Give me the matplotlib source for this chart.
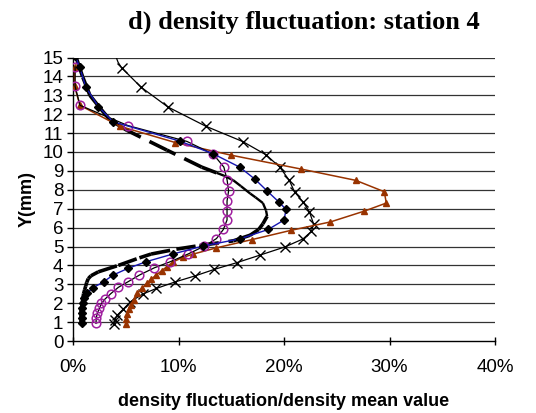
import numpy as np
import matplotlib
matplotlib.use("Agg")
import matplotlib.pyplot as plt
from matplotlib.collections import LineCollection
from matplotlib.ticker import FuncFormatter

plt.rcParams["lines.scale_dashes"] = False

# Profile heights (mm) and relative density fluctuation (%) for each run
dash_y = [0.9, 1.1, 1.3, 1.5, 1.7, 1.9, 2.1, 2.3, 2.5, 2.7, 2.9, 3.1, 3.3, 3.45,
          3.66, 4.0, 4.4, 4.6, 4.86, 5.05, 5.3, 5.6, 5.9, 6.2, 6.6, 6.9, 7.3,
          7.6, 7.8, 8.2, 8.5, 8.75, 8.9, 9.2, 10.1, 11.15, 11.7, 12.3, 13.0,
          14.0, 15.0]
dash_x = [0.8, 0.8, 0.8, 0.8, 0.8, 0.85, 0.9, 0.95, 1.0, 1.1, 1.2, 1.3, 1.45, 1.7,
          2.4, 4.3, 6.3, 7.4, 9.8, 12.0, 15.2, 16.8, 17.6, 18.0, 18.4, 18.3, 18.0,
          17.3, 16.8, 15.9, 15.2, 14.3, 13.6, 12.2, 8.9, 5.1, 3.5, 2.6, 1.6,
          0.9, 0.3]

diam_y = [0.93, 1.2, 1.46, 1.73, 1.99, 2.25, 2.55, 2.82, 3.13, 3.49, 3.84, 4.19,
          4.6, 5.03, 5.4, 5.9, 6.4, 6.96, 7.36, 7.94, 8.56, 9.2, 9.9, 10.58,
          11.6, 12.4, 13.45, 14.5, 15.1]
diam_x = [0.82, 0.82, 0.82, 0.82, 0.92, 1.04, 1.36, 1.9, 2.9, 3.8, 5.2, 6.9,
          9.45, 12.35, 15.8, 18.5, 20.0, 20.2, 19.5, 18.4, 17.25, 15.8, 13.3, 10.1,
          3.8, 2.4, 1.2, 0.63, 0.2]

circ_y = [0.93, 1.2, 1.46, 1.73, 1.99, 2.2, 2.5, 2.84, 3.13, 3.49, 3.87, 4.19,
          4.6, 5.02, 5.42, 5.9, 6.4, 6.9, 7.4, 7.95, 8.54, 9.2, 9.88, 10.56,
          11.4, 12.47, 13.47, 14.5]
circ_x = [2.18, 2.2, 2.3, 2.5, 2.7, 3.0, 3.57, 4.3, 5.2, 6.3, 7.7, 9.2,
          10.9, 12.45, 13.6, 14.25, 14.6, 14.6, 14.6, 14.75, 14.6, 14.3, 13.3, 10.8,
          5.2, 0.66, 0.2, 0.2]

tri_y = [0.9, 1.15, 1.41, 1.67, 1.9, 2.17, 2.52, 2.78, 3.05, 3.27, 3.49, 3.72,
         3.93, 4.19, 4.42, 4.6, 4.93, 5.37, 5.86, 6.3, 6.87, 7.3, 7.9, 8.5,
         9.1, 9.83, 10.5, 11.36, 12.47, 13.47, 14.5]
tri_x = [5.05, 5.05, 5.15, 5.3, 5.5, 5.8, 6.1, 6.5, 7.0, 7.4, 7.9, 8.4,
         8.9, 9.5, 10.4, 11.4, 13.6, 17.0, 20.7, 24.4, 27.6, 29.7, 29.5, 26.8,
         21.6, 15.0, 9.7, 4.45, 0.66, 0.15, 0.15]

cross_y = [0.9, 1.1, 1.37, 1.67, 2.08, 2.48, 2.78, 3.13, 3.45, 3.79, 4.14, 4.54,
           4.98, 5.4, 5.8, 6.2, 6.85, 7.36, 7.89, 8.5, 9.2, 9.85, 10.55, 11.36,
           12.38, 13.43, 14.46, 14.75, 15.6]
cross_x = [3.85, 3.95, 4.2, 4.74, 5.45, 6.6, 7.9, 9.7, 11.6, 13.4, 15.5, 17.7,
           20.1, 21.8, 22.6, 22.8, 22.4, 21.8, 21.0, 20.5, 19.6, 18.3, 16.1, 12.6,
           9.0, 6.45, 4.6, 4.27, 3.7]
cross_mark_n = 27  # the last two points only shape the line above the plot

x_ticks = [0, 10, 20, 30, 40]
y_ticks = list(range(0, 16))

fig = plt.figure(figsize=(5.36, 4.13), dpi=100)
ax = fig.add_axes([73 / 536, 72 / 413, 422 / 536, 283.5 / 413])

ax.set_xlim(0, 40)
ax.set_ylim(0, 15)

# horizontal gridlines only
for yv in y_ticks[1:]:
    ax.axhline(yv, color="#333333", lw=0.9, zorder=0.5)

# thick black profile: dash pattern restarts on every segment,
# upper part of the bulge drawn thinner
pts = np.column_stack([dash_x, dash_y])
segs = np.stack([pts[:-1], pts[1:]], axis=1)
mid_y = 0.5 * (pts[:-1, 1] + pts[1:, 1])
widths = np.where((mid_y > 6.7) & (mid_y < 8.95), 1.7, 2.6)
lc = LineCollection(segs, colors="black", linewidths=widths,
                    linestyles=[(0, (14, 7))], capstyle="butt", zorder=2)
ax.add_collection(lc)

ax.plot(cross_x, cross_y, color="black", lw=0.9, zorder=3)
ax.plot(cross_x[:cross_mark_n], cross_y[:cross_mark_n], ls="none", marker="x",
        ms=6.5, mew=1.0, color="black", zorder=3)

ax.plot(tri_x, tri_y, color="#993300", lw=1.1, marker="^", ms=5,
        mfc="#993300", mec="#993300", zorder=4)

ax.plot(circ_x, circ_y, color="black", lw=0.9, marker="o", ms=6.2,
        mfc="none", mec="#A0209F", mew=1.1, zorder=5)

ax.plot(diam_x, diam_y, color="#1515B0", lw=1.0, marker="D", ms=4.4,
        mfc="black", mec="black", zorder=6)

for side in ("top", "right"):
    ax.spines[side].set_visible(False)
for side in ("left", "bottom"):
    ax.spines[side].set_linewidth(1.0)
    ax.spines[side].set_color("black")

ax.set_xticks(x_ticks)
ax.set_yticks(y_ticks)
ax.xaxis.set_major_formatter(FuncFormatter(lambda v, p: f"{v:.0f}%"))
ax.tick_params(axis="x", direction="inout", length=6, width=1, pad=10,
               labelsize=13.5)
ax.tick_params(axis="y", direction="out", length=4, width=1, pad=3,
               labelsize=13.5)
for lab in ax.get_xticklabels() + ax.get_yticklabels():
    lab.set_fontfamily("Liberation Sans")

ax.set_xlabel("density fluctuation/density mean value", fontsize=13,
              fontweight="bold", family="Liberation Sans", labelpad=12)
ax.set_ylabel("Y(mm)", fontsize=13, fontweight="bold",
              family="Liberation Sans", labelpad=5)

fig.text(304 / 536, 1 - 22 / 413, "d) density fluctuation: station 4",
         ha="center", va="center", fontsize=19, fontweight="bold",
         family="Liberation Serif")

fig.savefig("out.png", dpi=100)
